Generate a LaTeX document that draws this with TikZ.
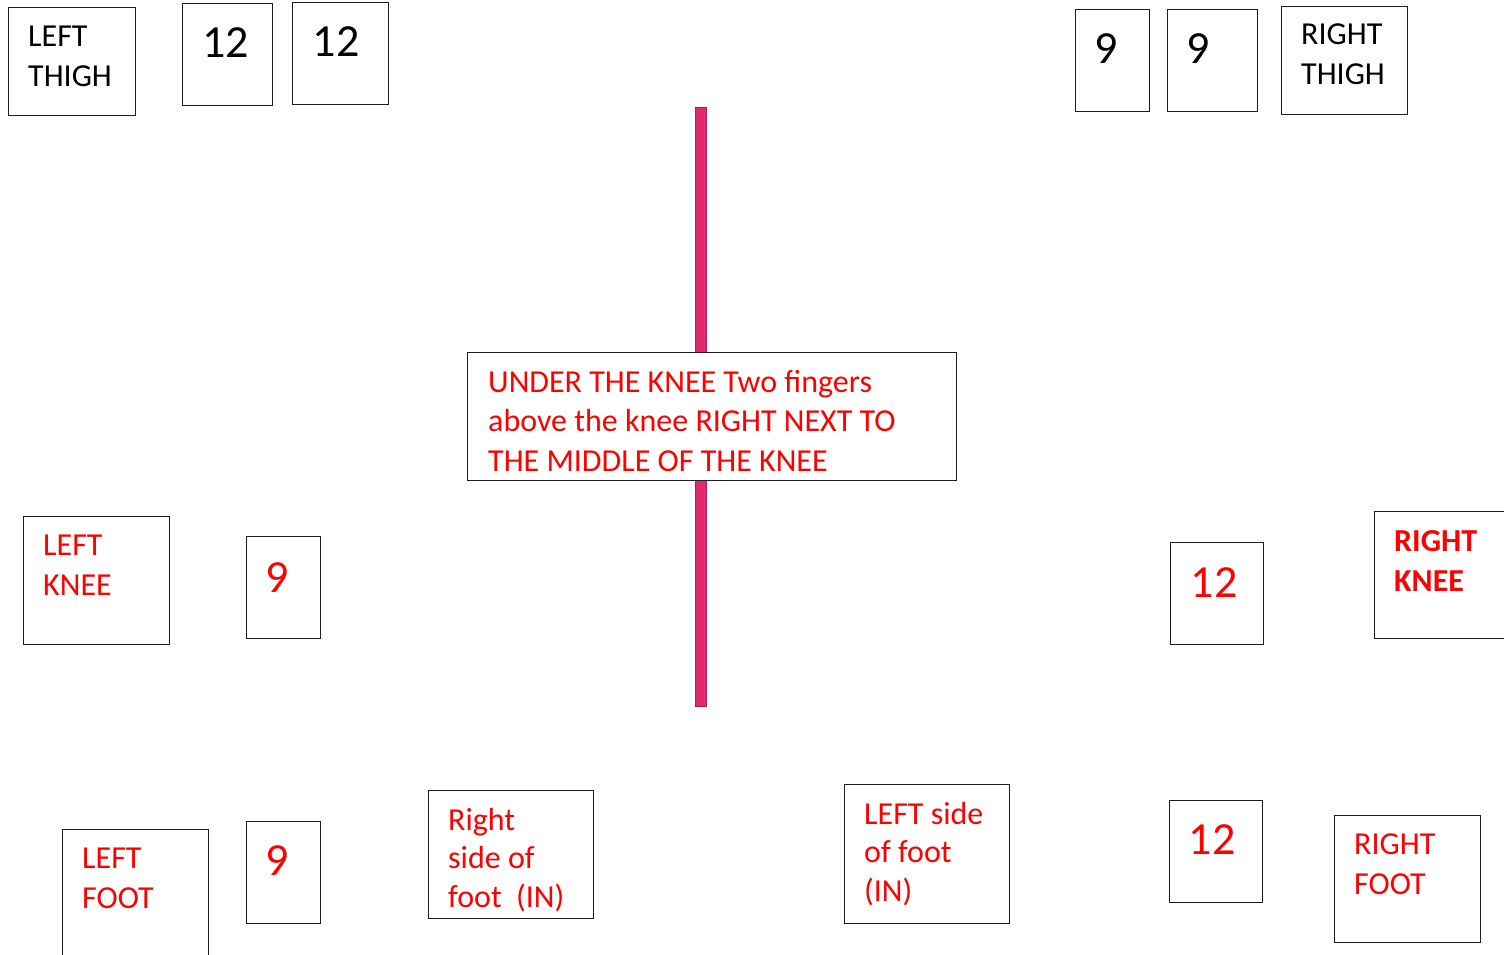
\documentclass[tikz,border=0pt]{standalone}
\usepackage{fontspec}
\setmainfont{Carlito}
\definecolor{polefill}{RGB}{228,40,110}
\definecolor{poleedge}{RGB}{176,30,90}
\definecolor{boxline}{RGB}{30,30,30}
\begin{document}
\begin{tikzpicture}[x=1pt,y=-1pt,
  box/.style={draw=boxline,line width=1.4pt,fill=white,anchor=north west,inner sep=0pt},
  txt/.style={anchor=north west,inner sep=0pt,align=left,font=\fontsize{32}{40}\selectfont},
  num/.style={anchor=center,inner sep=0pt,font=\fontsize{46}{50}\selectfont},
  red/.style={text=red}]
\useasboundingbox (0,0) rectangle (1504,954);
\clip (0,0) rectangle (1504,954);
% pole
\node[draw=poleedge,fill=polefill,line width=1.8pt,minimum width=11pt,minimum height=599pt,inner sep=0pt,anchor=north west] (pole) at (694.5,106.5) {};
% top left
\node[box,minimum width=127pt,minimum height=108pt] (lthigh) at (8,7) {};
\node[txt] (lthight) at (28,26) {LEFT\\THIGH};
\node[box,minimum width=90pt,minimum height=102pt] (lt1) at (182,3) {};
\node[num] (lt1t) at (225.5,42.5) {12};
\node[box,minimum width=96pt,minimum height=102pt] (lt2) at (292,2) {};
\node[num] (lt2t) at (336,42) {12};
% top right
\node[box,minimum width=74pt,minimum height=102pt] (rt1) at (1075,9) {};
\node[num] (rt1t) at (1106,49) {9};
\node[box,minimum width=90pt,minimum height=102pt] (rt2) at (1167,9) {};
\node[num] (rt2t) at (1198,49) {9};
\node[box,minimum width=126pt,minimum height=108pt] (rthigh) at (1281,6) {};
\node[txt] (rthight) at (1301,24) {RIGHT\\THIGH};
% center
\node[box,minimum width=489pt,minimum height=128pt] (center) at (467,352) {};
\node[txt,red,font=\fontsize{32}{39.5}\selectfont] (centert) at (488,370) {UNDER THE KNEE Two fingers\\above the knee RIGHT NEXT TO\\THE MIDDLE OF THE KNEE};
% knees
\node[box,minimum width=146pt,minimum height=128pt] (lknee) at (23,516) {};
\node[txt,red] (lkneet) at (43,535) {LEFT\\KNEE};
\node[box,minimum width=74pt,minimum height=102pt] (lk9) at (246,536) {};
\node[num,red] (lk9t) at (277,577.5) {9};
\node[box,minimum width=93pt,minimum height=102pt] (rk12) at (1170,542) {};
\node[num,red] (rk12t) at (1214,582.5) {12};
\node[box,minimum width=150pt,minimum height=127pt] (rknee) at (1374,511) {};
\node[txt,red,font=\fontsize{32}{40}\selectfont\bfseries] (rkneet) at (1394,530) {RIGHT\\KNEE};
% feet
\node[box,minimum width=146pt,minimum height=140pt] (lfoot) at (62,829) {};
\node[txt,red] (lfoott) at (82,848) {LEFT\\FOOT};
\node[box,minimum width=74pt,minimum height=102pt] (lf9) at (246,821) {};
\node[num,red] (lf9t) at (277,861) {9};
\node[box,minimum width=165pt,minimum height=128pt] (rsf) at (428,790) {};
\node[txt,red,font=\fontsize{32}{38.5}\selectfont] (rsft) at (448,808) {Right\\side of\\foot~ (IN)};
\node[box,minimum width=165pt,minimum height=139pt] (lsf) at (844,784) {};
\node[txt,red,font=\fontsize{32}{38.5}\selectfont] (lsft) at (864,802) {LEFT side\\of foot\\(IN)};
\node[box,minimum width=93pt,minimum height=102pt] (rf12) at (1169,800) {};
\node[num,red] (rf12t) at (1212,840) {12};
\node[box,minimum width=146pt,minimum height=127pt] (rfoot) at (1334,815) {};
\node[txt,red] (rfoott) at (1354,834) {RIGHT\\FOOT};
\end{tikzpicture}
\end{document}
